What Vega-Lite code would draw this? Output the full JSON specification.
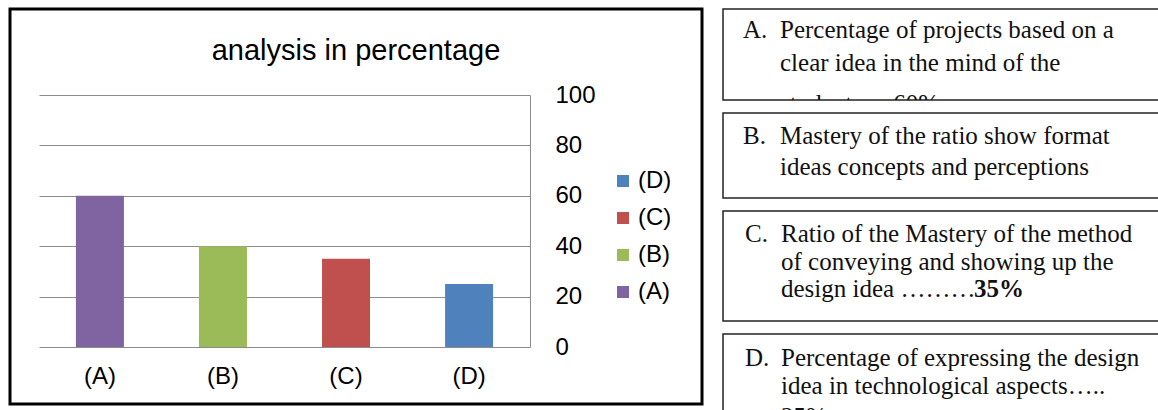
{
  "$schema": "https://vega.github.io/schema/vega-lite/v6.json",
  "padding": {"left": 8, "top": 7, "right": 0, "bottom": 0},
  "background": "white",
  "config": {"font": "Liberation Sans", "concat": {"spacing": 18}},
  "datasets": {
    "bars": [
      {"cat": "(A)", "value": 60},
      {"cat": "(B)", "value": 40},
      {"cat": "(C)", "value": 35},
      {"cat": "(D)", "value": 25}
    ],
    "notes": [
      {"box": "A", "line": 1, "part": "label", "text": "A."},
      {"box": "A", "line": 1, "part": "body", "text": "Percentage of projects based on a"},
      {"box": "A", "line": 2, "part": "body", "text": "clear idea in the mind of the"},
      {"box": "A", "line": 3, "part": "body", "text": "students …60%"},
      {"box": "B", "line": 1, "part": "label", "text": "B."},
      {"box": "B", "line": 1, "part": "body", "text": "Mastery of the ratio show format"},
      {"box": "B", "line": 2, "part": "body", "text": "ideas concepts and perceptions"},
      {"box": "C", "line": 1, "part": "label", "text": "C."},
      {"box": "C", "line": 1, "part": "body", "text": "Ratio of the Mastery of the method"},
      {"box": "C", "line": 2, "part": "body", "text": "of conveying and showing up the"},
      {"box": "C", "line": 3, "part": "body", "text": "design idea ………"},
      {"box": "C", "line": 3, "part": "body", "text": "35%", "bold": true},
      {"box": "D", "line": 1, "part": "label", "text": "D."},
      {"box": "D", "line": 1, "part": "body", "text": "Percentage of expressing the design"},
      {"box": "D", "line": 2, "part": "body", "text": "idea in technological aspects….."},
      {"box": "D", "line": 3, "part": "body", "text": "25%"}
    ]
  },
  "hconcat": [
    {
      "width": 692,
      "height": 395,
      "view": {"stroke": "#000", "strokeWidth": 3},
      "data": {"name": "bars"},
      "title": {
        "text": "analysis in percentage",
        "font": "Liberation Sans",
        "fontSize": 29,
        "fontWeight": "normal",
        "color": "#000",
        "anchor": "middle",
        "offset": -57
      },
      "encoding": {
        "x": {
          "field": "cat",
          "type": "nominal",
          "sort": ["(A)", "(B)", "(C)", "(D)"],
          "scale": {"range": [29, 520], "paddingInner": 0.61, "paddingOuter": 0.3},
          "axis": {
            "orient": "bottom",
            "offset": -57,
            "domain": false,
            "ticks": false,
            "grid": false,
            "labelAngle": 0,
            "labelPadding": 17,
            "labelFont": "Liberation Sans",
            "labelFontSize": 24,
            "labelColor": "#000",
            "title": null
          }
        }
      },
      "layer": [
        {
          "mark": {"type": "bar"},
          "encoding": {
            "y": {
              "field": "value",
              "type": "quantitative",
              "scale": {"domain": [0, 100], "range": [338, 86]},
              "axis": {
                "orient": "left",
                "values": [0, 20, 40, 60, 80, 100],
                "grid": true,
                "gridColor": "#8c8c8c",
                "gridWidth": 1,
                "domain": false,
                "ticks": false,
                "labels": false,
                "title": null
              }
            },
            "color": {
              "field": "cat",
              "type": "nominal",
              "scale": {
                "domain": ["(A)", "(B)", "(C)", "(D)"],
                "range": ["#8064A2", "#9BBB59", "#C0504D", "#4F81BD"]
              },
              "legend": {
                "orient": "none",
                "legendX": 601,
                "legendY": 160,
                "title": null,
                "values": ["(D)", "(C)", "(B)", "(A)"],
                "symbolType": "square",
                "symbolSize": 144,
                "symbolStrokeWidth": 0,
                "labelFont": "Liberation Sans",
                "labelFontSize": 24,
                "labelColor": "#000",
                "labelOffset": 3,
                "rowPadding": 13,
                "padding": 0
              }
            }
          }
        },
        {
          "mark": {"type": "bar", "opacity": 0},
          "encoding": {
            "y": {
              "field": "value",
              "type": "quantitative",
              "axis": {
                "orient": "right",
                "offset": -172,
                "values": [0, 20, 40, 60, 80, 100],
                "grid": false,
                "domain": true,
                "domainColor": "#8c8c8c",
                "ticks": false,
                "labelPadding": 25,
                "labelFont": "Liberation Sans",
                "labelFontSize": 24,
                "labelColor": "#000",
                "title": null
              }
            }
          }
        }
      ],
      "resolve": {"axis": {"y": "independent"}}
    },
    {
      "spacing": 11,
      "vconcat": [
        {
          "width": 445,
          "height": 91,
          "view": {"stroke": "#222", "strokeWidth": 1.5},
          "data": {"name": "notes"},
          "transform": [{"filter": "datum.box === 'A'"}],
          "encoding": {
            "x": {"field": "part", "type": "nominal", "scale": {"type": "point", "domain": ["label", "body"], "range": [20, 57], "padding": 0}, "axis": null},
            "y": {"field": "line", "type": "quantitative", "scale": {"type": "pow", "exponent": 1.45, "domain": [1, 3], "range": [29, 103]}, "axis": null},
            "text": {"field": "text"}
          },
          "mark": {"type": "text", "align": "left", "baseline": "alphabetic", "font": "Liberation Serif", "fontSize": 25, "color": "#111", "clip": true}
        },
        {
          "width": 445,
          "height": 85,
          "view": {"stroke": "#222", "strokeWidth": 1.5},
          "data": {"name": "notes"},
          "transform": [{"filter": "datum.box === 'B'"}],
          "encoding": {
            "x": {"field": "part", "type": "nominal", "scale": {"type": "point", "domain": ["label", "body"], "range": [20, 57], "padding": 0}, "axis": null},
            "y": {"field": "line", "type": "quantitative", "scale": {"domain": [1, 2], "range": [31, 62]}, "axis": null},
            "text": {"field": "text"}
          },
          "mark": {"type": "text", "align": "left", "baseline": "alphabetic", "font": "Liberation Serif", "fontSize": 25, "color": "#111", "clip": true}
        },
        {
          "width": 445,
          "height": 110,
          "view": {"stroke": "#222", "strokeWidth": 1.5},
          "data": {"name": "notes"},
          "transform": [{"filter": "datum.box === 'C'"}],
          "encoding": {
            "x": {"field": "part", "type": "nominal", "scale": {"type": "point", "domain": ["label", "body"], "range": [22, 58], "padding": 0}, "axis": null},
            "y": {"field": "line", "type": "quantitative", "scale": {"domain": [1, 3], "range": [31, 86]}, "axis": null},
            "text": {"field": "text"}
          },
          "layer": [
            {
              "transform": [{"filter": "!datum.bold"}],
              "mark": {"type": "text", "align": "left", "baseline": "alphabetic", "font": "Liberation Serif", "fontSize": 25, "color": "#111", "clip": true}
            },
            {
              "transform": [{"filter": "datum.bold"}],
              "mark": {"type": "text", "align": "left", "baseline": "alphabetic", "font": "Liberation Serif", "fontSize": 25, "fontWeight": "bold", "color": "#111", "dx": 193, "clip": true}
            }
          ]
        },
        {
          "width": 445,
          "height": 90,
          "view": {"stroke": "#222", "strokeWidth": 1.5},
          "data": {"name": "notes"},
          "transform": [{"filter": "datum.box === 'D'"}],
          "encoding": {
            "x": {"field": "part", "type": "nominal", "scale": {"type": "point", "domain": ["label", "body"], "range": [22, 58], "padding": 0}, "axis": null},
            "y": {"field": "line", "type": "quantitative", "scale": {"type": "pow", "exponent": 1.2, "domain": [1, 3], "range": [32, 91]}, "axis": null},
            "text": {"field": "text"}
          },
          "mark": {"type": "text", "align": "left", "baseline": "alphabetic", "font": "Liberation Serif", "fontSize": 25, "color": "#111", "clip": true}
        }
      ]
    }
  ]
}
